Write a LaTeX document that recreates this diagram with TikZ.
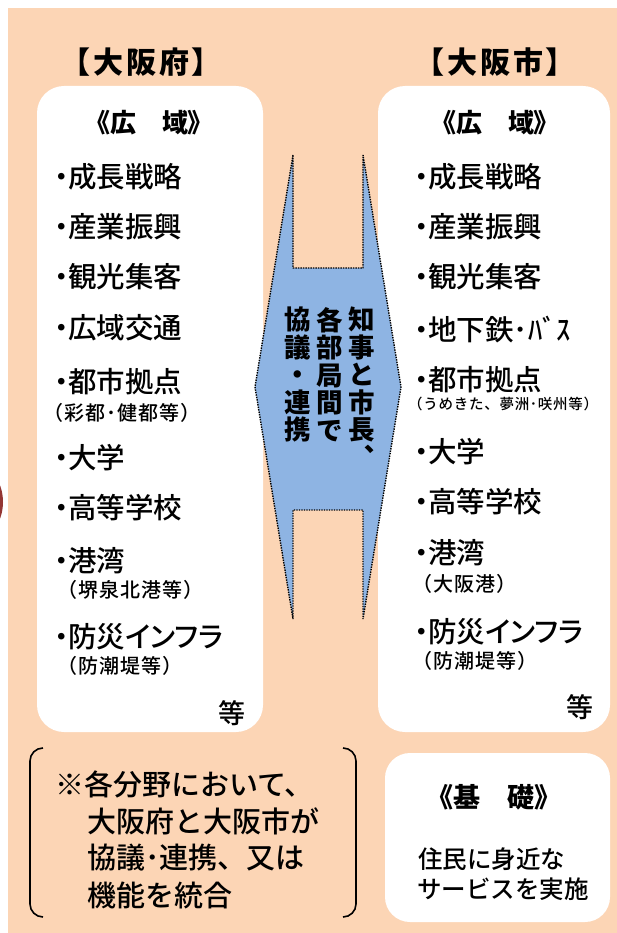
\documentclass[tikz,border=0pt]{standalone}
\usepackage{fontspec}
\newfontfamily\jpA{Noto Sans CJK JP Medium}[RawFeature=+palt]
\newfontfamily\jpT{Noto Sans CJK JP}[RawFeature=+palt,LetterSpace=10]
\newfontfamily\jpD{Noto Sans CJK JP}[RawFeature=+palt]
\newfontfamily\jpB{Noto Sans CJK JP Medium}
\newfontfamily\jpC{Noto Sans CJK JP Medium}[LetterSpace=5]
\newfontfamily\jpV{Noto Sans CJK JP}
\definecolor{bgor}{HTML}{FCD5B5}
\definecolor{arrblue}{HTML}{8EB4E3}
\definecolor{maroonx}{HTML}{943634}
\begin{document}
\begin{tikzpicture}[x=1pt,y=-1pt,
  whitebox/.style={fill=white,draw=none,rounded corners=27pt,inner sep=0pt},
  arrowst/.style={fill=arrblue,draw=black,line width=1.4pt,dash pattern=on 1.4pt off 1.1pt,line join=bevel},
  ttl/.style={inner sep=0pt,font=\jpT\bfseries\fontsize{30}{30}\selectfont},
  hd/.style={inner sep=0pt,font=\jpD\bfseries\fontsize{26}{26}\selectfont},
  itemst/.style={anchor=west,inner sep=0pt,font=\jpA\fontsize{28.5}{28.5}\selectfont},
  subst/.style={anchor=west,inner sep=0pt,font=\jpC\fontsize{20}{20}\selectfont},
  etcst/.style={inner sep=0pt,font=\jpB\fontsize{27}{27}\selectfont},
  vtxt/.style={anchor=north,align=center,inner sep=0pt,font=\jpV\bfseries\fontsize{26.5}{27.5}\selectfont},
  brtxt/.style={anchor=west,inner sep=0pt,font=\jpB\fontsize{29}{29}\selectfont},
  kisotxt/.style={anchor=west,inner sep=0pt,font=\jpB\fontsize{24.5}{24.5}\selectfont},
  bracketst/.style={draw=black,line width=1.6pt}
]
\useasboundingbox (0,0) rectangle (617,933);
\fill[white] (0,0) rectangle (617,933);
\fill[bgor] (8,8) rectangle (617,933);
\begin{scope}
  \clip (0,0) rectangle (617,933);
  \fill[maroonx] (-30,502) ellipse [x radius=33pt, y radius=40pt];
\end{scope}

% white boxes
\node[whitebox,minimum width=226pt,minimum height=646pt] (boxL) at (150,409) {};
\node[whitebox,minimum width=232pt,minimum height=646pt] (boxR) at (494,409) {};
\node[whitebox,rounded corners=25pt,minimum width=225pt,minimum height=169pt] (boxK) at (497.5,837.5) {};

% titles
\node[ttl] (ttlL) at (141,62) {【大阪府】};
\node[ttl] (ttlR) at (495,62) {【大阪市】};
\node[hd] (hdL) at (149,123) {《広　域》};
\node[hd] (hdR) at (495,123) {《広　域》};

% left items
\node[itemst] (L1) at (54,177) {・成長戦略};
\node[itemst] (L2) at (54,227) {・産業振興};
\node[itemst] (L3) at (54,277) {・観光集客};
\node[itemst] (L4) at (54,328) {・広域交通};
\node[itemst] (L5) at (54,382) {・都市拠点};
\node[subst]  (L5s) at (43,413) {（彩都･健都等）};
\node[itemst] (L6) at (54,458) {・大学};
\node[itemst] (L7) at (54,508) {・高等学校};
\node[itemst] (L8) at (54,561) {・港湾};
\node[subst]  (L8s) at (57,590) {（堺泉北港等）};
\node[itemst] (L9) at (54,637) {・防災インフラ};
\node[subst]  (L9s) at (57,666) {（防潮堤等）};
\node[etcst]  (Letc) at (232,713) {等};

% right items
\node[itemst] (R1) at (414,177) {・成長戦略};
\node[itemst] (R2) at (414,227) {・産業振興};
\node[itemst] (R3) at (414,277) {・観光集客};
\node[itemst] (R4) at (414,330) {・地下鉄･ﾊﾞｽ};
\node[itemst] (R5) at (414,380) {・都市拠点};
\node[anchor=west,inner sep=0pt,font=\jpC\fontsize{14.5}{14.5}\selectfont] (R5s) at (408,404) {（うめきた、夢洲･咲州等）};
\node[itemst] (R6) at (414,452) {・大学};
\node[itemst] (R7) at (414,502) {・高等学校};
\node[itemst] (R8) at (414,553) {・港湾};
\node[subst]  (R8s) at (412,584) {（大阪港）};
\node[itemst] (R9) at (414,632) {・防災インフラ};
\node[subst]  (R9s) at (412,661) {（防潮堤等）};
\node[etcst]  (Retc) at (580,707) {等};

% central double shape
\filldraw[arrowst] (293,155) -- (255,387) -- (293,619) -- (293,510) -- (363,510)
  -- (363,619) -- (401,387) -- (363,155) -- (363,268) -- (293,268) -- cycle;
\node[vtxt] (c1) at (362,307) {知\\事\\と\\市\\長\\︑};
\node[vtxt] (c2) at (330,307) {各\\部\\局\\間\\で};
\node[vtxt] (c3) at (298,307) {協\\議\\・\\連\\携};

% bracket note
\draw[bracketst] (43,748) to[out=180,in=90] (30,761) -- (30,904) to[out=-90,in=180] (43,917);
\draw[bracketst] (343,748) to[out=0,in=90] (356,761) -- (356,904) to[out=-90,in=0] (343,917);
\node[brtxt] (n1) at (55,784) {※各分野において、};
\node[brtxt] (n2) at (87,821) {大阪府と大阪市が};
\node[brtxt] (n3) at (87,858) {協議･連携、又は};
\node[brtxt] (n4) at (87,895) {機能を統合};

% kiso box text
\node[inner sep=0pt,font=\jpV\bfseries\fontsize{27}{27}\selectfont] (kiso) at (494,797) {《基　礎》};
\node[kisotxt] (k1) at (418,859) {住民に身近な};
\node[kisotxt] (k2) at (417,889) {サービスを実施};
\end{tikzpicture}
\end{document}
